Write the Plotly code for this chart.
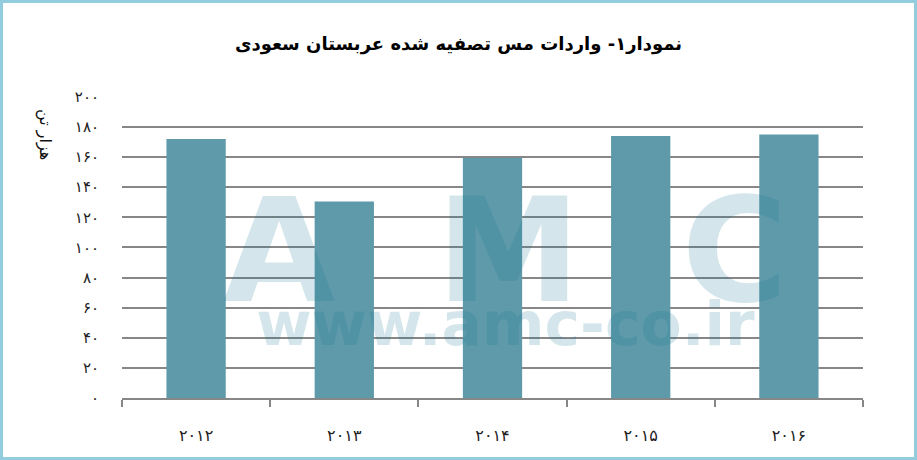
import plotly.graph_objects as go

# داده‌ها: واردات مس تصفیه شده عربستان سعودی (هزار تن)
years = ["۲۰۱۲", "۲۰۱۳", "۲۰۱۴", "۲۰۱۵", "۲۰۱۶"]
imports = [172, 130.5, 159.5, 174, 175]

y_tick_vals = [0, 20, 40, 60, 80, 100, 120, 140, 160, 180, 200]
y_tick_text = ["۰", "۲۰", "۴۰", "۶۰", "۸۰", "۱۰۰", "۱۲۰", "۱۴۰", "۱۶۰", "۱۸۰", "۲۰۰"]

title_text = "نمودار۱- واردات مس تصفیه شده عربستان سعودی"
y_title = "هزار تن"

W, H = 917, 460
L, R, T, B = 122, 54, 96, 62
PW, PH = W - L - R, H - T - B


def px(x):
    return (x - L) / PW


def py(y):
    return (H - B - y) / PH


fig = go.Figure()
fig.add_trace(go.Bar(
    x=years, y=imports,
    marker=dict(color="#5E9AAA", line=dict(width=0)),
    hoverinfo="x+y",
))

# واترمارک (یک متن دو خطی)
wm_color = "rgba(16,116,144,0.18)"
wm_text = ("<b><span style='font-size:145px'>A&nbsp;&nbsp;M&nbsp;&nbsp;C</span><br>"
           "<span style='font-size:60px'>www.amc-co.ir</span></b>")
annotations = [dict(
    text=wm_text, x=px(505), y=py(262), xref="paper", yref="paper",
    showarrow=False, align="center",
    font=dict(family="DejaVu Sans", size=34, color=wm_color),
    xanchor="center", yanchor="middle",
)]

annotations.append(dict(
    text=y_title, x=px(45), y=py(134), xref="paper", yref="paper",
    showarrow=False, textangle=90,
    font=dict(family="DejaVu Sans", size=16, color="#111111"),
    xanchor="center", yanchor="middle",
))

fig.update_layout(
    width=W, height=H, autosize=False,
    margin=dict(l=L, r=R, t=T, b=B),
    paper_bgcolor="white", plot_bgcolor="white",
    bargap=0.6, showlegend=False,
    title=dict(
        text="<b>%s</b>" % title_text, x=0.5, xref="container", xanchor="center",
        y=1 - 44 / H, yref="container", yanchor="middle",
        font=dict(family="DejaVu Sans", size=18, color="#000000"),
    ),
    annotations=annotations,
    shapes=[dict(
        type="rect", xref="paper", yref="paper",
        x0=px(1.5), x1=px(W - 1.5), y0=py(H - 1.5), y1=py(1.5),
        line=dict(color="#93CDDD", width=3), fillcolor="rgba(0,0,0,0)",
    )],
    xaxis=dict(
        type="category", showline=True, linecolor="#878787", linewidth=2,
        ticks="outside", tickson="boundaries", ticklen=7, tickwidth=2, tickcolor="#878787",
        ticklabelstandoff=22, showgrid=False,
        tickfont=dict(family="DejaVu Sans", size=16, color="#222222"),
    ),
    yaxis=dict(
        range=[0, 200.6], tickvals=y_tick_vals, ticktext=y_tick_text,
        showgrid=True, gridcolor="#878787", gridwidth=2, zeroline=False,
        showline=False, ticks="", ticklabelstandoff=22,
        tickfont=dict(family="DejaVu Sans", size=15, color="#222222"),
    ),
)

fig.write_html("out.html", config={"displayModeBar": False},
               post_script="document.body.style.margin='0';")
